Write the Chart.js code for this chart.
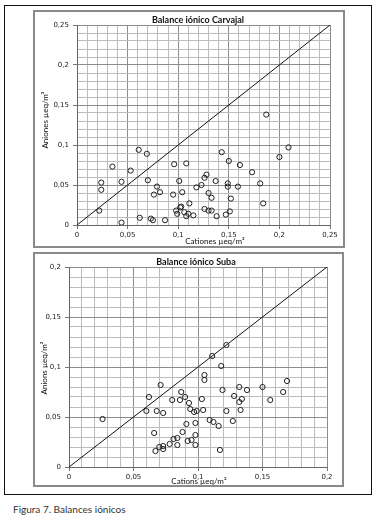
<!DOCTYPE html>
<html>
<head>
<meta charset="utf-8">
<script src="https://cdn.jsdelivr.net/npm/chart.js@4.4.1/dist/chart.umd.min.js"></script>
<style>
  body { margin: 0; background: #fff; width: 380px; height: 519px; position: relative; overflow: hidden; }
  .frame { position: absolute; left: 4px; top: 5px; width: 366px; height: 488px; border: 1.5px solid #111; }
  .box { position: absolute; border: 2px solid #8a8a8a; box-sizing: border-box; }
  canvas { position: absolute; }
  .caption { position: absolute; left: 13px; top: 503px; font-family: Lato, sans-serif; font-size: 10px; color: #333; }
</style>
</head>
<body>
<div class="frame"></div>
<div class="box" style="left:33px; top:10px; width:312px; height:238px;"></div>
<div class="box" style="left:33px; top:252px; width:311px; height:235px;"></div>
<canvas id="carvajal" width="308" height="234" style="left:35px; top:12px;"></canvas>
<canvas id="suba" width="307" height="231" style="left:35px; top:254px;"></canvas>
<div class="caption">Figura 7. Balances iónicos</div>
<script>
// Balance iónico Carvajal
var carvajalCationes = [0.022, 0.024, 0.024, 0.035, 0.044, 0.044, 0.053, 0.061, 0.062, 0.069, 0.070, 0.073, 0.075, 0.076, 0.079, 0.082, 0.087, 0.095, 0.096, 0.098, 0.099, 0.101, 0.102, 0.103, 0.104, 0.106, 0.108, 0.108, 0.110, 0.111, 0.115, 0.118, 0.123, 0.126, 0.126, 0.128, 0.130, 0.130, 0.133, 0.133, 0.137, 0.138, 0.143, 0.147, 0.149, 0.149, 0.150, 0.151, 0.152, 0.159, 0.161, 0.173, 0.181, 0.184, 0.187, 0.200, 0.209];
var carvajalAniones = [0.018, 0.053, 0.044, 0.073, 0.054, 0.003, 0.068, 0.094, 0.009, 0.089, 0.056, 0.008, 0.006, 0.038, 0.048, 0.041, 0.006, 0.038, 0.076, 0.018, 0.014, 0.055, 0.022, 0.023, 0.041, 0.016, 0.011, 0.077, 0.014, 0.027, 0.012, 0.047, 0.050, 0.059, 0.020, 0.063, 0.040, 0.018, 0.034, 0.018, 0.055, 0.011, 0.091, 0.013, 0.052, 0.048, 0.080, 0.017, 0.033, 0.048, 0.075, 0.066, 0.052, 0.027, 0.138, 0.085, 0.097];
var carvajalMax = 0.25;

// Balance iónico Suba
var subaCations = [0.026, 0.060, 0.062, 0.068, 0.071, 0.073, 0.066, 0.067, 0.070, 0.073, 0.073, 0.078, 0.080, 0.081, 0.084, 0.084, 0.086, 0.087, 0.088, 0.090, 0.091, 0.093, 0.092, 0.094, 0.095, 0.097, 0.099, 0.098, 0.098, 0.098, 0.103, 0.104, 0.105, 0.105, 0.109, 0.112, 0.116, 0.117, 0.118, 0.111, 0.122, 0.119, 0.122, 0.128, 0.127, 0.132, 0.132, 0.133, 0.134, 0.138, 0.150, 0.156, 0.166, 0.169];
var subaAnions = [0.048, 0.056, 0.070, 0.056, 0.082, 0.054, 0.034, 0.016, 0.020, 0.021, 0.018, 0.023, 0.067, 0.028, 0.029, 0.022, 0.067, 0.075, 0.035, 0.070, 0.043, 0.064, 0.026, 0.058, 0.027, 0.055, 0.056, 0.044, 0.032, 0.022, 0.068, 0.057, 0.092, 0.087, 0.047, 0.045, 0.041, 0.017, 0.101, 0.111, 0.122, 0.077, 0.056, 0.071, 0.046, 0.065, 0.080, 0.057, 0.068, 0.077, 0.080, 0.067, 0.075, 0.086];
var subaMax = 0.2;

var minorStep = 0.01;
var majorStep = 0.05;

function isMajor(v) {
    return Math.abs(v / majorStep - Math.round(v / majorStep)) < 1e-6;
}
function fmt(v) {
    return String(Math.round(v * 100) / 100).replace('.', ',');
}
function toPoints(xs, ys) {
    return xs.map(function (x, i) { return { x: x, y: ys[i] }; });
}

// texts placed like the Excel chart: [text, x, y, rotated, bold, size]
function textPlugin(texts) {
    return {
        id: 'texts',
        afterDraw: function (chart) {
            var ctx = chart.ctx;
            texts.forEach(function (t) {
                ctx.save();
                ctx.fillStyle = '#111';
                ctx.font = (t[4] ? 'bold ' : '') + t[5] + 'px Lato, sans-serif';
                ctx.textAlign = 'center';
                ctx.textBaseline = 'middle';
                ctx.translate(t[1], t[2]);
                if (t[3]) ctx.rotate(-Math.PI / 2);
                ctx.fillText(t[0], 0, 0);
                ctx.restore();
            });
        }
    };
}

function makeChart(id, xs, ys, max, area, texts) {
    var canvas = document.getElementById(id);
    var W = canvas.width, H = canvas.height;
    var axisOpts = function (isX) {
        return {
            type: 'linear',
            min: 0,
            max: max,
            afterFit: function (s) {
                if (isX) s.height = H - area.bottom; else s.width = area.left;
            },
            ticks: {
                stepSize: minorStep,
                maxTicksLimit: 100,
                autoSkip: false,
                maxRotation: 0,
                padding: isX ? 2 : 4,
                color: '#222',
                font: { family: 'DejaVu Sans', size: 7 },
                callback: function (v) { return isMajor(v) ? fmt(v) : ''; }
            },
            grid: {
                color: function (c) { return isMajor(c.tick.value) ? '#8c8c8c' : '#bdbdbd'; },
                tickColor: function (c) { return isMajor(c.tick.value) ? '#777' : 'rgba(0,0,0,0)'; },
                tickLength: 4,
                lineWidth: 1
            },
            border: { color: '#666', width: 1 }
        };
    };
    return new Chart(canvas, {
        type: 'scatter',
        data: {
            datasets: [{
                data: toPoints(xs, ys),
                pointStyle: 'circle',
                pointRadius: 2.6,
                pointBorderWidth: 1,
                pointBorderColor: '#222',
                pointBackgroundColor: 'rgba(255,255,255,0)'
            }, {
                data: [{ x: 0, y: 0 }, { x: max, y: max }],
                showLine: true,
                borderColor: '#111',
                borderWidth: 1,
                pointRadius: 0
            }]
        },
        options: {
            responsive: false,
            animation: false,
            layout: { padding: { left: 0, top: area.top, right: W - area.right, bottom: 0 } },
            plugins: { legend: { display: false }, tooltip: { enabled: false } },
            scales: { x: axisOpts(true), y: axisOpts(false) }
        },
        plugins: [textPlugin(texts)]
    });
}

makeChart('carvajal', carvajalCationes, carvajalAniones, carvajalMax,
    { left: 42, right: 295, top: 13, bottom: 213 },
    [['Balance iónico Carvajal', 163, 8, false, true, 9],
     ['Cationes µeq/m²', 180, 229, false, false, 8],
     ['Aniones µeq/m²', 10, 108, true, false, 8]]);

makeChart('suba', subaCations, subaAnions, subaMax,
    { left: 34, right: 292, top: 13, bottom: 213 },
    [['Balance iónico Suba', 161, 8, false, true, 9],
     ['Cations µeq/m²', 164, 227, false, false, 8],
     ['Anions µeq/m²', 9, 114, true, false, 8]]);
</script>
</body>
</html>
